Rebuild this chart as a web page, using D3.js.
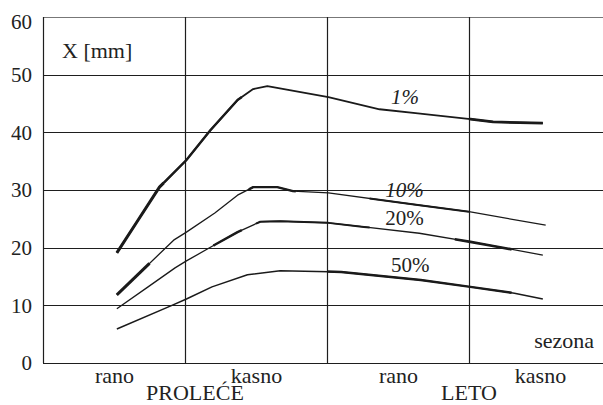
<!DOCTYPE html>
<html>
<head>
<meta charset="utf-8">
<script src="https://cdn.jsdelivr.net/npm/d3@7/dist/d3.min.js"></script>
<style>
  html, body { margin: 0; padding: 0; background: #fff; }
  svg { display: block; }
</style>
</head>
<body>
<svg id="chart" width="603" height="405"></svg>
<script>
// Season sub-periods along the x axis (one per quarter of the axis)
const categories = ["rano", "kasno", "rano", "kasno"];
const seasons = ["PROLEĆE", "LETO"];
const yTicks = [0, 10, 20, 30, 40, 50, 60];

// Positions along the season axis (0..4) and X [mm] values per exceedance level
const u1  = [0.52, 0.67, 0.82, 1.01, 1.18, 1.37, 1.48, 1.58, 2.01, 2.37, 2.64, 3.01, 3.17, 3.52];
const v1  = [19.1, 24.8, 30.5, 35.2, 40.4, 45.6, 47.5, 48.0, 46.1, 44.0, 43.3, 42.3, 41.8, 41.6];

const u10 = [0.52, 0.92, 1.01, 1.21, 1.37, 1.48, 1.65, 1.76, 2.01, 2.64, 3.01, 3.54];
const v10 = [11.8, 21.3, 22.7, 26.0, 29.1, 30.5, 30.5, 29.8, 29.5, 27.4, 26.2, 23.9];

const u20 = [0.52, 0.74, 0.93, 1.01, 1.21, 1.37, 1.53, 1.67, 2.01, 2.26, 2.65, 3.01, 3.17, 3.52];
const v20 = [9.4, 13.2, 16.5, 17.7, 20.5, 22.7, 24.5, 24.6, 24.3, 23.6, 22.5, 21.0, 20.3, 18.7];

const u50 = [0.52, 0.90, 1.01, 1.19, 1.44, 1.67, 2.10, 2.66, 3.01, 3.32, 3.52];
const v50 = [5.9, 9.9, 11.1, 13.2, 15.3, 16.0, 15.8, 14.4, 13.2, 12.1, 11.1];

const seriesNames = ["1%", "10%", "20%", "50%"];

// Pen style of each curve: base width, heavier inked stretches [from, to, width],
// and where its label sits (in axis units)
const series = [
  { name: seriesNames[0], u: u1,  v: v1,  width: 1.8, heavy: [[0.52, 0.85, 3.0], [0.85, 1.4, 2.4], [3.0, 3.52, 2.8]],
    italic: true,  lu: 2.45, lv: 45.0 },
  { name: seriesNames[1], u: u10, v: v10, width: 1.3, heavy: [[0.52, 0.75, 3.0], [1.45, 1.78, 2.4], [2.3, 3.0, 2.0]],
    italic: true,  lu: 2.41, lv: 28.7 },
  { name: seriesNames[2], u: u20, v: v20, width: 1.3, heavy: [[1.2, 1.4, 2.4], [1.5, 2.3, 2.0], [2.9, 3.3, 2.6]],
    italic: false, lu: 2.41, lv: 24.0 },
  { name: seriesNames[3], u: u50, v: v50, width: 1.5, heavy: [[2.0, 3.3, 2.5]],
    italic: false, lu: 2.45, lv: 15.8 }
];

const fontFam = '"Liberation Serif"';

const svg = d3.select("#chart");
const plotLeft = 43, plotTop = 17, plotBottom = 363;

const x = d3.scaleLinear().domain([0, 4]).range([plotLeft, plotLeft + 568]);
const y = d3.scaleLinear().domain([0, 60]).range([plotBottom, plotTop]);

const grid = svg.append("g");

// horizontal grid lines (including the baseline)
grid.selectAll("line.h").data(yTicks).join("line")
  .attr("class", "h")
  .attr("x1", x(0)).attr("x2", x(4))
  .attr("y1", d => Math.round(y(d)) + 0.5).attr("y2", d => Math.round(y(d)) + 0.5)
  .attr("stroke", d => d === 60 ? "#777" : "#1e1e1e")
  .attr("stroke-width", d => d === 60 ? 1 : 1.2);

// vertical dividers between sub-periods, plus the left frame edge
grid.selectAll("line.v").data([0, 1, 2, 3]).join("line")
  .attr("class", "v")
  .attr("x1", d => Math.round(x(d)) + 0.5).attr("x2", d => Math.round(x(d)) + 0.5)
  .attr("y1", y(60)).attr("y2", y(0))
  .attr("stroke", "#1e1e1e")
  .attr("stroke-width", 1.2);

// y axis labels
const yAxis = d3.axisLeft(y).tickValues(yTicks).tickSize(0).tickPadding(11);
const gy = svg.append("g").attr("transform", `translate(${plotLeft},0)`).call(yAxis);
gy.attr("font-family", null).attr("font-size", null);
gy.select(".domain").remove();
gy.selectAll("text")
  .style("font-family", fontFam)
  .style("font-size", "21px")
  .attr("fill", "#222")
  .attr("dy", d => d === 60 ? "0.55em" : "0.32em");

// x axis category labels
const xAxis = d3.axisBottom(x).tickValues([0.5, 1.5, 2.5, 3.5])
  .tickFormat((d, i) => categories[i]).tickSize(0).tickPadding(4);
const gx = svg.append("g").attr("transform", `translate(0,${plotBottom})`).call(xAxis);
gx.attr("font-family", null).attr("font-size", null);
gx.select(".domain").remove();
gx.selectAll("text")
  .style("font-family", fontFam)
  .style("font-size", "22px")
  .attr("fill", "#222");

// season names under the category labels
svg.selectAll("text.season").data(seasons).join("text")
  .attr("class", "season")
  .attr("x", (d, i) => x(i === 0 ? 1.07 : 3.0))
  .attr("y", 400)
  .attr("text-anchor", "middle")
  .attr("fill", "#222")
  .style("font-family", fontFam)
  .style("font-size", "22px")
  .text(d => d);

// axis titles inside the frame
svg.append("text")
  .attr("x", 62).attr("y", 58)
  .attr("fill", "#222")
  .style("font-family", fontFam)
  .style("font-size", "22px")
  .text("X [mm]");

svg.append("text")
  .attr("x", 594).attr("y", 348)
  .attr("text-anchor", "end")
  .attr("fill", "#222")
  .style("font-family", fontFam)
  .style("font-size", "22px")
  .text("sezona");

// curves
const line = d3.line().x(d => x(d[0])).y(d => y(d[1]));
const pointsOf = s => s.u.map((u, i) => [u, s.v[i]]);

// part of a polyline between two axis positions, with interpolated ends
function span(pts, a, b) {
  const at = t => {
    for (let i = 1; i < pts.length; i++) {
      if (t <= pts[i][0]) {
        const [u0, v0] = pts[i - 1], [u1_, v1_] = pts[i];
        const k = (t - u0) / (u1_ - u0);
        return [t, v0 + k * (v1_ - v0)];
      }
    }
    return pts[pts.length - 1];
  };
  return [at(a), ...pts.filter(p => p[0] > a && p[0] < b), at(b)];
}

const curves = svg.append("g");
curves.selectAll("path.base").data(series).join("path")
  .attr("class", "base")
  .attr("d", s => line(pointsOf(s)))
  .attr("fill", "none")
  .attr("stroke", "#1a1a1a")
  .attr("stroke-width", s => s.width)
  .attr("stroke-linejoin", "round")
  .attr("stroke-linecap", "butt");

curves.selectAll("path.heavy")
  .data(series.flatMap(s => s.heavy.map(h => ({ pts: span(pointsOf(s), h[0], h[1]), w: h[2] }))))
  .join("path")
  .attr("class", "heavy")
  .attr("d", d => line(d.pts))
  .attr("fill", "none")
  .attr("stroke", "#1a1a1a")
  .attr("stroke-width", d => d.w)
  .attr("stroke-linejoin", "round")
  .attr("stroke-linecap", "butt");

// series labels
svg.append("g").selectAll("text.lbl").data(series).join("text")
  .attr("class", "lbl")
  .attr("x", s => x(s.lu))
  .attr("y", s => y(s.lv))
  .attr("fill", "#222")
  .style("font-family", fontFam)
  .style("font-size", "21px")
  .style("font-style", s => s.italic ? "italic" : "normal")
  .text(s => s.name);
</script>
</body>
</html>
